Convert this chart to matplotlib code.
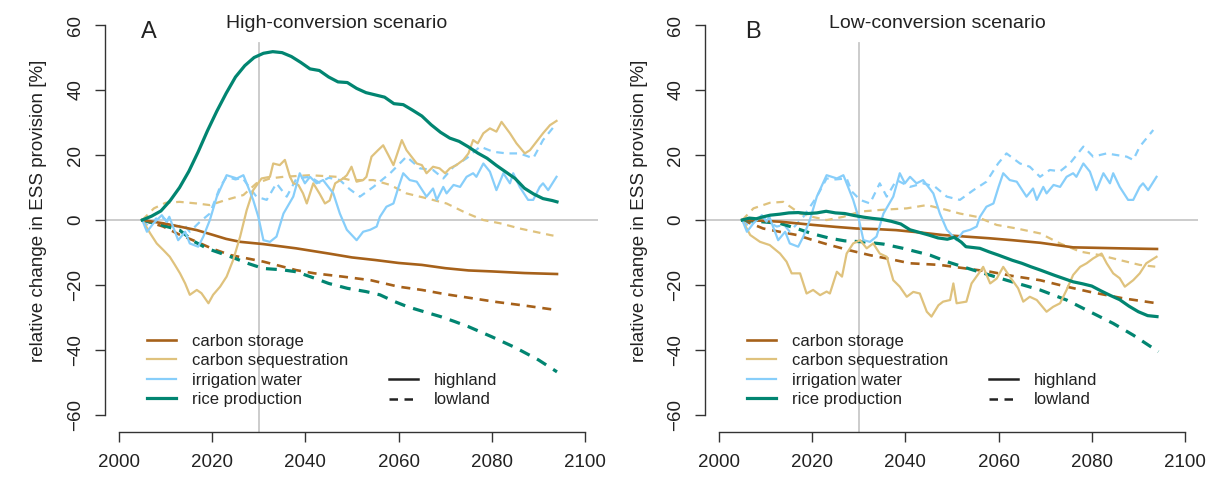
import matplotlib
matplotlib.use("Agg")
import matplotlib.pyplot as plt
from matplotlib.lines import Line2D

plt.rcParams['font.family'] = ['Liberation Sans', 'DejaVu Sans']

# ---- data ----
# panel A: high-conversion scenario
yr_cs_hi_a = [2005, 2009.5, 2013, 2016.7, 2020, 2023, 2026, 2031, 2038, 2045, 2050, 2055, 2060, 2065, 2070, 2075, 2080, 2087, 2094]
cs_hi_a = [0, -1, -2, -3.1, -4.5, -5.8, -6.7, -7.4, -8.7, -10.3, -11.5, -12.3, -13.2, -13.8, -14.8, -15.5, -15.8, -16.3, -16.6]

yr_cs_lo_a = [2005, 2009.5, 2013, 2016.7, 2020, 2024, 2031, 2038, 2042, 2048, 2054, 2060, 2065, 2070, 2076, 2081, 2087, 2094]
cs_lo_a = [0, -2, -4.5, -6.7, -8.8, -10.8, -12.8, -15.4, -16.4, -17.4, -18.5, -20.5, -21.5, -22.8, -24.1, -25.2, -26.3, -27.7]

yr_seq_hi_a = [2005, 2006.7, 2008.1, 2009.5, 2010.9, 2012, 2013.1, 2014.2, 2015.2, 2016.7, 2017.7, 2019.2, 2020.2,
               2021.7, 2023.1, 2024.5, 2026, 2027.4, 2028.8, 2030.6, 2032.4, 2033.1, 2034.5, 2035.6, 2036.7, 2037.4,
               2038.5, 2039.5, 2040.3, 2041.7, 2043.1, 2044.2, 2045.2, 2046.4, 2048.1, 2048.9, 2049.9, 2051, 2052.4,
               2053.1, 2054.2, 2055.6, 2056.7, 2057.8, 2058.9, 2060.7, 2061.7, 2063.9, 2065, 2066, 2067.4, 2068.8,
               2070, 2071, 2072.4, 2073.9, 2075, 2076, 2077, 2078.2, 2079.6, 2081, 2082.1, 2083.9, 2085.3, 2087.1,
               2088.2, 2089.6, 2091, 2092.5, 2093.9]
seq_hi_a = [0, -4.1, -7.2, -9.2, -11.3, -13.8, -16.4, -19.5, -23, -21.5, -22.5, -25.6, -23,
            -20.5, -17.4, -12.3, -5.1, 3, 9.2, 12.8, 13.3, 17.4, 16.9, 18.5, 13.3, 11.3,
            10.8, 8.2, 5.1, 11.3, 8, 5.1, 6, 11.3, 12.8, 13.8, 16.4, 11.8, 12.3,
            13.3, 19.5, 21.5, 23, 20, 16.9, 24.6, 21.5, 17.4, 16.9, 14.4, 16.4, 15.9,
            14.4, 15.9, 16.9, 18.5, 20.5, 24.6, 23.6, 26.7, 28.2, 27.2, 30.2, 26.7, 23.6, 20.5,
            21.5, 24.1, 26.7, 29.2, 30.5]

yr_seq_lo_a = [2005, 2007.5, 2010, 2013, 2016.7, 2019.5, 2023, 2026.7, 2029.5, 2032.4, 2035.3, 2041, 2046.7,
               2049.6, 2054.6, 2058.2, 2061.7, 2066, 2070.3, 2074.6, 2078.2, 2081.8, 2086, 2092.5, 2094]
seq_lo_a = [0, 3.6, 5.3, 5.6, 5.1, 4.6, 6.2, 7.7, 11.3, 12.8, 13.3, 13.8, 13.3,
            12.3, 12.3, 10.8, 8.2, 6.7, 5.1, 2.1, 0, -1, -2.6, -4.6, -5]

# irrigation water (highland) is the same in both scenarios
yr_irr_hi = [2005, 2006, 2007.4, 2009.2, 2010.2, 2010.8, 2012.7, 2014.2, 2015.2, 2017, 2018.1, 2019.5, 2021,
             2023.1, 2025.3, 2026.7, 2027.7, 2028.8, 2029.9, 2031, 2032.4, 2033.8, 2035.3, 2037.4, 2038.8,
             2039.9, 2041, 2042.4, 2043.8, 2046, 2047.4, 2048.9, 2051, 2052.4, 2053.9, 2055.3, 2056, 2057.4,
             2058.9, 2060, 2061, 2062.4, 2063.9, 2066, 2067.4, 2068.2, 2069.6, 2070.3, 2071.8, 2073.2, 2074.6,
             2076, 2076.7, 2078.2, 2079.6, 2081, 2082.5, 2083.9, 2084.6, 2086, 2087.8, 2088.9, 2090.3, 2091,
             2092.1, 2093.9]
irr_hi = [0, -3.6, -1, 1.5, -0.5, 1, -6.2, -3.6, -7.2, -8.2, -5.1, 0, 7.2,
          13.8, 12.8, 13.8, 10.2, 6.2, 1, -6.2, -6.7, -5.1, 2, 7.2, 14.4,
          11.3, 13.3, 11.3, 12.3, 8.2, 2, -3, -6.2, -3.6, -3, -2, 1, 4.1,
          5.1, 10.2, 14.4, 12.3, 11.8, 7.2, 9.7, 6.2, 10.2, 8.2, 10.8, 10.2, 13.3,
          14.4, 13.3, 17.4, 14.9, 9.2, 14.4, 11.3, 14.4, 10.2, 6.2, 6.2, 10.2, 11.3,
          9.2, 13.3]

yr_irr_lo_a = [2005, 2006.4, 2008, 2009.2, 2010.5, 2012.4, 2014, 2015.2, 2017.4, 2019.5, 2021.7, 2023.1, 2025,
               2026.5, 2027.5, 2029.5, 2031.7, 2033.8, 2036, 2038.1, 2041, 2043, 2045, 2047.4, 2049.5, 2051.7,
               2054.6, 2058.2, 2061.7, 2064.6, 2067.4, 2069.6, 2071.8, 2074.6, 2077.5, 2080.3, 2083.2, 2086,
               2088.9, 2091, 2093.6]
irr_lo_a = [0, -2, 0.5, 1, -0.5, -2, -1.5, -3.6, -0.5, 2, 10.2, 13.3, 12.5,
            13, 11, 7.2, 6.2, 11.3, 7.2, 12.8, 13.3, 11.5, 13, 12.3, 9.5, 7.2,
            10.2, 14.4, 19.5, 15.9, 15.4, 12.8, 16.4, 19, 22.6, 21, 20.5, 20.5,
            19, 24.6, 29.2]

yr_rice_hi_a = [2005, 2007, 2009, 2011, 2013, 2015, 2017, 2019, 2021, 2023, 2025, 2027, 2029, 2031, 2033,
                2035, 2037, 2039, 2041, 2043, 2045, 2047, 2049, 2051, 2053, 2055, 2057, 2059, 2061, 2063,
                2065, 2067, 2069, 2071, 2073, 2075, 2077, 2079, 2081, 2083, 2085, 2087, 2089, 2091, 2093, 2094]
rice_hi_a = [0, 1.2, 2.8, 6, 10, 15, 21, 27.5, 33.5, 39, 44, 47.5, 50, 51.3, 51.8,
             51.5, 50.3, 48.5, 46.5, 46, 44, 42.5, 42.3, 40.5, 39.2, 38.5, 37.8, 35.8, 35.5, 33.8,
             32, 29.3, 27, 25.2, 24.2, 22.5, 20.6, 19, 16.8, 14.8, 12.8, 9.8, 8, 6.6, 6.0, 5.6]

yr_rice_lo_a = [2005, 2009, 2013, 2016, 2019, 2024, 2028, 2031, 2035, 2038, 2042, 2045, 2049, 2053, 2056,
                2059, 2062, 2065, 2069, 2072, 2075, 2080, 2085, 2090, 2094]
rice_lo_a = [0, -1.5, -3.1, -6.5, -8.8, -11.3, -13.5, -14.9, -15.3, -15.9, -17.9, -19.5, -21, -22, -23,
             -25, -26.7, -28, -29.7, -31.2, -32.8, -35.9, -39.2, -43, -46.7]

# panel B: low-conversion scenario
yr_cs_hi_b = [2005, 2009, 2013, 2016.7, 2020.2, 2025, 2029.5, 2034, 2038, 2043, 2048, 2053, 2058, 2063, 2069, 2076, 2086, 2094]
cs_hi_b = [0, -0.2, -0.5, -1, -1.5, -2.1, -2.6, -2.8, -3.1, -3.8, -4.6, -5.1, -5.6, -6.2, -7, -8.4, -8.7, -8.9]

yr_cs_lo_b = [2005, 2009.5, 2013, 2016.7, 2020, 2023.8, 2028, 2032.4, 2037, 2041, 2047.4, 2053, 2058.2, 2063, 2068.9, 2074, 2079.6, 2086.8, 2094]
cs_lo_b = [0, -2.6, -3.6, -4.6, -6.1, -7.7, -9.3, -10.8, -12.1, -13.3, -13.8, -14.9, -15.9, -17.2, -18.5, -20.3, -22.1, -24.1, -25.6]

yr_seq_hi_b = [2005, 2006.7, 2008.8, 2010.9, 2013.1, 2014.5, 2015.6, 2017.4, 2018.8, 2020.2, 2021.7, 2023.1,
               2023.8, 2025.3, 2026.4, 2027.4, 2028.8, 2030.3, 2031.7, 2033.1, 2034.5, 2036, 2037.4, 2038.8,
               2040.3, 2041.7, 2043.1, 2044.6, 2045.6, 2047.1, 2048.1, 2049.6, 2050.3, 2051, 2053.1, 2054.2,
               2056, 2056.7, 2058.2, 2059.6, 2061, 2062.4, 2064.2, 2065.3, 2066.7, 2068.2, 2070.3, 2071.7,
               2073.2, 2074.6, 2076, 2077.5, 2078.9, 2080.3, 2082.1, 2083.2, 2084.6, 2086, 2087.1, 2088.9,
               2090.3, 2091.7, 2093.9]
seq_hi_b = [0, -4.6, -6.7, -7.7, -10.3, -12.8, -16.4, -16.4, -22.6, -21.5, -23.1, -22,
            -22.6, -15.9, -17.4, -10.3, -7.2, -6.2, -8.7, -7.2, -10.3, -11.3, -18.5, -20.5,
            -23.6, -22.1, -22.6, -28.2, -29.7, -26.2, -25.1, -24.6, -19.5, -25.6, -25.1, -19.5,
            -15.9, -14.4, -19.5, -18, -14.4, -17.4, -21, -25.1, -23.6, -24.6, -28.2, -26.7,
            -25.6, -21.5, -16.9, -14.4, -13.3, -11.8, -10.3, -13.3, -16.4, -17.9, -20.5, -18.5,
            -16.4, -13.3, -11.3]

yr_seq_lo_b = [2005, 2007.4, 2010.9, 2013.8, 2017.4, 2020, 2023.1, 2026.7, 2030.3, 2034.5, 2040.3, 2044.6,
               2048.9, 2051.7, 2055.3, 2059.6, 2063.9, 2068.9, 2073.2, 2077.5, 2081.8, 2086, 2090.3, 2094]
seq_lo_b = [0, 3.6, 5.3, 5.6, 2, 1, 0, 1, 2.6, 3.1, 3.6, 4.6,
            3.1, 2, 1, -1.5, -2.6, -4.1, -7.2, -9.7, -10.8, -12.3, -13.8, -14.4]

yr_irr_lo_b = [2005, 2006.4, 2008, 2009.2, 2010.5, 2012.4, 2014, 2015.2, 2018.1, 2021, 2023.1, 2025, 2027.4,
               2028.5, 2030.3, 2032.4, 2034.5, 2036, 2038.1, 2041, 2043.8, 2046.4, 2048.9, 2051.7, 2054.6,
               2057.4, 2059.9, 2061.7, 2064.6, 2066.7, 2068.9, 2071, 2073.2, 2075.3, 2078.2, 2080.3, 2083.2,
               2085.3, 2087.5, 2088.9, 2090.3, 2093.2]
irr_lo_b = [0, -2, 0.5, 1, -0.5, -2, -1.5, -3.6, 1, 7.2, 12.8, 12.5, 12.8,
            8.8, 6.2, 5.1, 11.3, 7.2, 12.3, 10.2, 11.3, 10.2, 7.2, 6.2, 9.2,
            11.8, 17.4, 20.5, 17.4, 16.4, 13.3, 15.4, 15, 17.4, 22.6, 19.5, 20.5,
            20, 19.5, 18.5, 22.6, 27.7]

yr_rice_hi_b = [2005, 2006.5, 2008, 2009.5, 2011, 2013, 2015, 2017, 2019, 2021, 2023, 2025, 2027, 2029,
                2031, 2033, 2035, 2037, 2039, 2041, 2043, 2045, 2047, 2049, 2050.5, 2052, 2053, 2056, 2058,
                2060, 2063, 2065, 2067, 2069, 2072, 2074, 2076, 2078, 2080, 2082, 2084, 2086, 2088, 2090,
                2092, 2094]
rice_hi_b = [0, 0.6, 0.4, 1, 1.5, 1.8, 2.2, 2.3, 2, 2.2, 2.7, 2.2, 2, 1.4,
             0.9, 0.5, 0.2, -0.4, -1.2, -3, -3.8, -4.6, -5.5, -5.9, -5.3, -6.8, -8.2, -8.7, -9.8,
             -10.8, -12.4, -13.3, -14.4, -15.4, -17, -18, -19, -19.6, -20.3, -21.8, -23.2, -24.5, -26.5, -28.2,
             -29.4, -29.7]

yr_rice_lo_b = [2005, 2009, 2013, 2016.7, 2020, 2023.8, 2027, 2031, 2035.3, 2039.5, 2045.3, 2048.9, 2054.6,
                2061.7, 2068.9, 2074.6, 2079.6, 2084.6, 2088.9, 2094.3]
rice_lo_b = [0, -0.5, -1, -2.6, -4.2, -5.6, -6.4, -6.7, -7.4, -8.7, -10.8, -12.8, -15.4,
             -18.5, -21.5, -24.6, -28.2, -31.8, -35.4, -40.5]

services = ['carbon storage', 'carbon sequestration', 'irrigation water', 'rice production']
colors = ['#a6611a', '#dfc27d', '#87cefa', '#018571']
widths = [1.9, 1.6, 1.6, 2.3]

panel_a = [
    (yr_cs_lo_a, cs_lo_a, 0, '--'), (yr_seq_lo_a, seq_lo_a, 1, '--'),
    (yr_irr_lo_a, irr_lo_a, 2, '--'), (yr_rice_lo_a, rice_lo_a, 3, '--'),
    (yr_cs_hi_a, cs_hi_a, 0, '-'), (yr_seq_hi_a, seq_hi_a, 1, '-'),
    (yr_irr_hi, irr_hi, 2, '-'), (yr_rice_hi_a, rice_hi_a, 3, '-'),
]
panel_b = [
    (yr_cs_lo_b, cs_lo_b, 0, '--'), (yr_seq_lo_b, seq_lo_b, 1, '--'),
    (yr_irr_lo_b, irr_lo_b, 2, '--'), (yr_rice_lo_b, rice_lo_b, 3, '--'),
    (yr_cs_hi_b, cs_hi_b, 0, '-'), (yr_seq_hi_b, seq_hi_b, 1, '-'),
    (yr_irr_hi, irr_hi, 2, '-'), (yr_rice_hi_b, rice_hi_b, 3, '-'),
]

W, H = 1221, 480
fig = plt.figure(figsize=(W / 100, H / 100), dpi=100)
text_col = '#222222'
grey = '#c8c8c8'
dash = (3.4, 2.6)


def draw_panel(left_px, series, title, letter, letter_x):
    ax = fig.add_axes([left_px / W, 48 / H, 493 / W, 422.6 / H])
    ax.axhline(0, color=grey, lw=1.3, zorder=1)
    ax.axvline(2030, ymin=0, ymax=(54.5 + 65.2) / 130, color=grey, lw=1.3, zorder=1)

    for x, y, k, ls in series:
        line, = ax.plot(x, y, color=colors[k], lw=widths[k], zorder=2,
                        solid_joinstyle='round')
        if ls == '--':
            line.set_dashes(dash)

    ax.set_xlim(1997, 2102.8)
    ax.set_ylim(-65.2, 64.8)
    ax.set_xticks([2000, 2020, 2040, 2060, 2080, 2100])
    ax.set_yticks([-60, -40, -20, 0, 20, 40, 60])
    for s in ['top', 'right']:
        ax.spines[s].set_visible(False)
    ax.spines['left'].set_bounds(-60, 60)
    ax.spines['bottom'].set_bounds(2000, 2100)
    for s in ['left', 'bottom']:
        ax.spines[s].set_color('#333333')
        ax.spines[s].set_linewidth(1.0)
    ax.tick_params(direction='out', length=7, width=1.0, color='#333333',
                   labelsize=13.5, labelcolor=text_col)
    ax.tick_params(axis='x', pad=9)
    ax.tick_params(axis='y', pad=8)
    for lbl in ax.get_yticklabels():
        lbl.set_rotation(90)
        lbl.set_va('center')

    ax.text(2046.8, 60.5, title, ha='center', va='center', fontsize=14, color=text_col)
    ax.text(letter_x, 57.7, letter, ha='center', va='center', fontsize=17, color=text_col)

    # legends
    h1 = [Line2D([], [], color=c, lw=w) for c, w in zip(colors, widths)]
    leg1 = ax.legend(h1, services, loc='upper left', bbox_to_anchor=(0.0846, 0.232),
                     frameon=False, fontsize=12, handlelength=1.75, handletextpad=0.95,
                     labelspacing=0.26, borderpad=0, borderaxespad=0, labelcolor=text_col)
    ax.add_artist(leg1)
    hl = Line2D([], [], color='#222222', lw=1.8)
    ll = Line2D([], [], color='#222222', lw=1.8, dashes=dash)
    ax.legend([hl, ll], ['highland', 'lowland'], loc='upper left', bbox_to_anchor=(0.576, 0.1396),
              frameon=False, fontsize=12, handlelength=1.75, handletextpad=0.95,
              labelspacing=0.26, borderpad=0, borderaxespad=0, labelcolor=text_col)

    fig.text((left_px - 66) / W, 1 - 211 / H, 'relative change in ESS provision [%]',
             rotation=90, ha='center', va='center', fontsize=13.5, color=text_col)
    return ax


draw_panel(105, panel_a, 'High-conversion scenario', 'A', 2006.4)
draw_panel(705, panel_b, 'Low-conversion scenario', 'B', 2007.2)

fig.savefig('out.png', dpi=100)
